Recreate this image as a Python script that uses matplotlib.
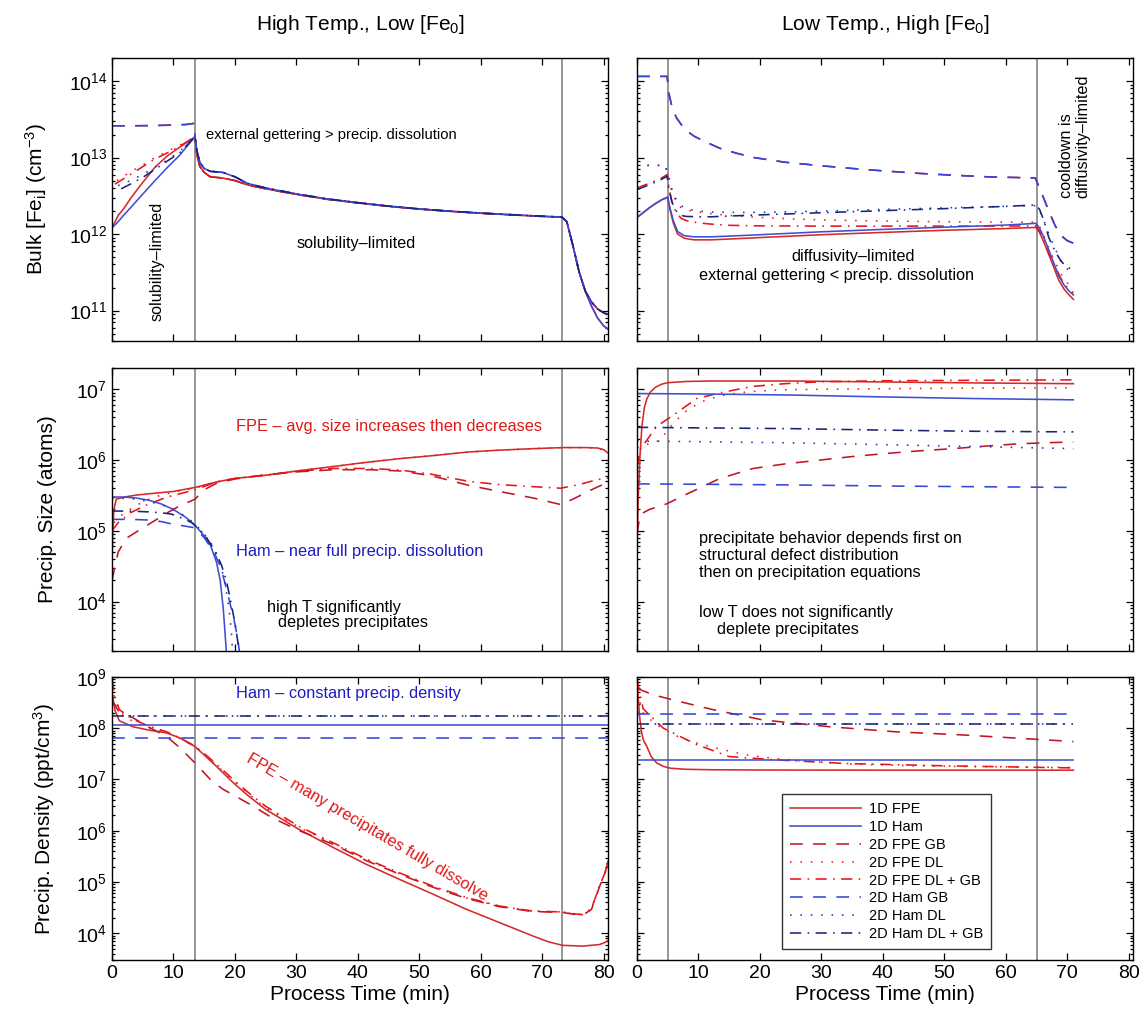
import matplotlib
matplotlib.use("Agg")
import matplotlib.pyplot as plt
from matplotlib.ticker import LogLocator, NullFormatter, MultipleLocator

plt.rcParams['font.family'] = ['Liberation Sans', 'DejaVu Sans']
plt.rcParams['mathtext.default'] = 'regular'

# ---------------------------------------------------------------------------
# Series names (legend order)
series_names = ['1D FPE', '1D Ham', '2D FPE GB', '2D FPE DL', '2D FPE DL + GB',
                '2D Ham GB', '2D Ham DL', '2D Ham DL + GB']

# ---------------------------------------------------------------------------
# High temperature, low [Fe0] : bulk interstitial iron (cm^-3)
hl_bulk_tail_t = [13.5, 13.8, 14.3, 15, 16, 18, 20, 22, 25, 30, 35, 40, 45, 50, 55, 60, 65, 70,
                  73.2, 74, 75, 76, 77]
hl_bulk_tail_fpe = [1.87e13, 1.1e13, 7.6e12, 6.4e12, 5.6e12, 5.4e12, 5.0e12, 4.4e12, 3.9e12, 3.3e12,
                    2.85e12, 2.55e12, 2.3e12, 2.12e12, 1.98e12, 1.87e12, 1.78e12, 1.70e12,
                    1.66e12, 1.45e12, 7.0e11, 3.2e11, 1.8e11]
hl_bulk_tail_ham = [1.87e13, 1.25e13, 8.6e12, 7.2e12, 6.6e12, 6.4e12, 5.6e12, 4.6e12, 4.0e12, 3.35e12,
                    2.88e12, 2.57e12, 2.32e12, 2.13e12, 1.99e12, 1.88e12, 1.79e12, 1.71e12,
                    1.67e12, 1.45e12, 7.0e11, 3.2e11, 1.8e11]
hl_bulk_cool_t = [78, 79, 80, 81]
hl_bulk_cool_1d = [1.15e11, 8.0e10, 6.3e10, 5.5e10]
hl_bulk_cool_2d = [1.3e11, 1.05e11, 9.3e10, 8.8e10]

hl_bulk_fpe1d_t = [0, 1, 2, 3, 4.5, 7, 9, 11]
hl_bulk_fpe1d = [1.2e12, 1.75e12, 2.2e12, 2.9e12, 4.2e12, 7.5e12, 1.05e13, 1.36e13]
hl_bulk_ham1d_t = [0, 1, 2, 3, 4.5, 7, 9, 11]
hl_bulk_ham1d = [1.2e12, 1.45e12, 1.8e12, 2.2e12, 3.0e12, 5.0e12, 7.4e12, 1.07e13]
hl_bulk_gb_t = [0, 3, 6, 9, 12, 13.4]
hl_bulk_fpegb = [2.6e13, 2.6e13, 2.62e13, 2.65e13, 2.7e13, 2.8e13]
hl_bulk_hamgb = [2.6e13, 2.6e13, 2.61e13, 2.64e13, 2.7e13, 2.8e13]
hl_bulk_fpedl_t = [0.8, 3, 5, 7, 9, 11]
hl_bulk_fpedl = [5.0e12, 6.5e12, 8.0e12, 1.0e13, 1.2e13, 1.45e13]
hl_bulk_fpedlgb_t = [0.5, 3, 5, 7, 9, 11]
hl_bulk_fpedlgb = [4.5e12, 6.0e12, 7.6e12, 9.6e12, 1.15e13, 1.4e13]
hl_bulk_hamdl_t = [1, 3, 5, 7, 9, 11]
hl_bulk_hamdl = [4.3e12, 5.0e12, 6.0e12, 7.5e12, 9.3e12, 1.2e13]
hl_bulk_hamdlgb_t = [1.5, 3, 5, 7, 9, 11]
hl_bulk_hamdlgb = [3.9e12, 4.5e12, 5.5e12, 7.0e12, 9.0e12, 1.15e13]

# ---------------------------------------------------------------------------
# Low temperature, high [Fe0] : bulk interstitial iron (cm^-3)
lh_bulk_1d_t = [0, 1, 2, 3, 4, 5, 5.3, 5.9, 6.6, 7.7, 9.3, 12, 15, 20, 30, 40, 50, 60, 64.9,
                65.5, 66.2, 67, 67.8, 68.6, 69.5, 70.3, 71]
lh_bulk_fpe1d = [1.65e12, 1.9e12, 2.2e12, 2.5e12, 2.8e12, 3.0e12, 2.2e12, 1.4e12, 1.0e12, 8.8e11,
                 8.4e11, 8.4e11, 8.6e11, 9.0e11, 9.8e11, 1.05e12, 1.12e12, 1.18e12, 1.22e12,
                 1.05e12, 7.8e11, 5.4e11, 3.7e11, 2.5e11, 1.9e11, 1.6e11, 1.4e11]
lh_bulk_ham1d = [1.65e12, 1.9e12, 2.2e12, 2.5e12, 2.8e12, 3.05e12, 2.3e12, 1.5e12, 1.08e12, 9.5e11,
                 9.2e11, 9.2e11, 9.4e11, 9.8e11, 1.07e12, 1.15e12, 1.23e12, 1.31e12, 1.38e12,
                 1.2e12, 9.0e11, 6.2e11, 4.2e11, 2.85e11, 2.15e11, 1.8e11, 1.6e11]
lh_bulk_gb_t = [0, 4.9, 5.2, 5.7, 6.4, 7.2, 8, 9.3, 10.8, 13.5, 16, 19, 24, 30, 35, 40, 46, 51,
                57, 61, 64.8, 65.4, 66.2, 67, 68, 69, 70, 71]
lh_bulk_fpegb = [1.15e14, 1.15e14, 6.8e13, 4.5e13, 3.3e13, 2.7e13, 2.25e13, 1.9e13, 1.65e13,
                 1.32e13, 1.15e13, 1.0e13, 8.7e12, 7.8e12, 7.2e12, 6.7e12, 6.2e12, 5.9e12,
                 5.6e12, 5.5e12, 5.4e12, 4.1e12, 2.9e12, 2.0e12, 1.3e12, 9.5e11, 8.2e11, 7.6e11]
lh_bulk_hamgb = [1.15e14, 1.15e14, 6.9e13, 4.6e13, 3.35e13, 2.7e13, 2.25e13, 1.9e13, 1.65e13,
                 1.32e13, 1.15e13, 1.0e13, 8.7e12, 7.8e12, 7.2e12, 6.7e12, 6.2e12, 5.9e12,
                 5.6e12, 5.5e12, 5.4e12, 4.2e12, 2.9e12, 2.0e12, 1.3e12, 9.6e11, 8.2e11, 7.6e11]
lh_bulk_dl_t = [0, 4.6, 5.2, 5.7, 6.4, 7.2, 8, 10, 12, 15, 20, 25, 30, 40, 50, 60, 64.9,
                65.5, 66.2, 67, 68, 69, 70, 71]
lh_bulk_fpedl = [7.9e12, 7.9e12, 5.0e12, 3.5e12, 2.6e12, 2.2e12, 2.05e12, 1.95e12, 1.85e12,
                 1.75e12, 1.65e12, 1.58e12, 1.53e12, 1.48e12, 1.45e12, 1.43e12, 1.43e12,
                 1.25e12, 9.5e11, 6.6e11, 4.3e11, 3.0e11, 2.3e11, 2.0e11]
lh_bulk_hamdl = [7.9e12, 7.9e12, 5.5e12, 3.8e12, 2.8e12, 2.35e12, 2.15e12, 2.0e12, 1.95e12,
                 1.92e12, 1.92e12, 1.95e12, 2.0e12, 2.1e12, 2.2e12, 2.3e12, 2.35e12,
                 2.0e12, 1.5e12, 1.0e12, 6.5e11, 4.5e11, 3.5e11, 3.1e11]
lh_bulk_dlgb_t = [0, 1, 2, 3, 4, 4.9, 5.2, 5.7, 6.4, 7.2, 8, 10, 12, 15, 20, 30, 40, 50, 60,
                  64.9, 65.5, 66.2, 67, 68, 69, 70, 71]
lh_bulk_fpedlgb = [4.0e12, 4.3e12, 4.6e12, 5.0e12, 5.4e12, 6.0e12, 4.0e12, 2.6e12, 1.9e12,
                   1.6e12, 1.5e12, 1.4e12, 1.35e12, 1.3e12, 1.28e12, 1.27e12, 1.27e12, 1.27e12,
                   1.27e12, 1.28e12, 1.1e12, 8.2e11, 5.6e11, 3.8e11, 2.6e11, 2.0e11, 1.7e11]
lh_bulk_hamdlgb = [3.8e12, 4.1e12, 4.4e12, 4.8e12, 5.2e12, 5.7e12, 3.8e12, 2.6e12, 2.0e12,
                   1.75e12, 1.7e12, 1.68e12, 1.68e12, 1.72e12, 1.78e12, 1.9e12, 2.02e12, 2.15e12,
                   2.3e12, 2.4e12, 2.1e12, 1.5e12, 9.0e11, 6.0e11, 4.4e11, 3.7e11, 3.4e11]

# ---------------------------------------------------------------------------
# High temperature, low [Fe0] : precipitate size (atoms)
hl_size_fpe1d_t = [0, 0.15, 0.3, 0.7, 2, 4, 7, 10, 13.5, 17, 20, 25, 30, 36, 41, 47, 52, 58, 63,
                   68.6, 73.4, 77, 79, 80, 81]
hl_size_fpe1d = [4e4, 1.0e5, 2.0e5, 2.8e5, 3.0e5, 3.2e5, 3.4e5, 3.6e5, 4.1e5, 4.9e5, 5.5e5, 6.1e5,
                 7.0e5, 8.1e5, 9.2e5, 1.05e6, 1.15e6, 1.3e6, 1.38e6, 1.45e6, 1.5e6, 1.5e6, 1.48e6,
                 1.4e6, 1.2e6]
hl_size_fpegb_t = [0, 1, 2.3, 5, 7, 9, 10.8, 13.5, 15, 17, 20, 25, 30, 36, 42, 47, 52, 58, 63,
                   68.6, 73, 75, 78, 81]
hl_size_fpegb = [2.0e4, 5.0e4, 7.8e4, 1.1e5, 1.4e5, 1.8e5, 2.2e5, 2.8e5, 3.8e5, 4.7e5, 5.4e5,
                 6.2e5, 6.8e5, 7.3e5, 7.3e5, 7.0e5, 6.0e5, 4.4e5, 3.6e5, 2.9e5, 2.35e5, 2.8e5,
                 3.8e5, 5.0e5]
hl_size_fpedl_t = [0.3, 2, 4, 6, 8, 10, 13.5, 17, 20, 25, 30, 36, 41, 47, 52, 58, 63, 68.6, 73.4,
                   77, 79, 81]
hl_size_fpedl = [1.3e5, 1.8e5, 2.3e5, 2.8e5, 3.2e5, 3.5e5, 4.0e5, 4.9e5, 5.5e5, 6.1e5, 7.0e5,
                 8.1e5, 9.2e5, 1.05e6, 1.15e6, 1.3e6, 1.38e6, 1.45e6, 1.5e6, 1.5e6, 1.47e6, 1.3e6]
hl_size_fpedlgb_t = [0, 1, 3, 6, 9, 13.5, 17, 20, 25, 30, 36, 42, 47, 52, 58, 63, 68.6, 73, 76,
                     79, 81]
hl_size_fpedlgb = [1.0e5, 1.3e5, 1.8e5, 2.4e5, 3.0e5, 3.8e5, 4.9e5, 5.5e5, 6.1e5, 6.9e5, 7.6e5,
                   7.6e5, 7.2e5, 6.3e5, 5.0e5, 4.5e5, 4.2e5, 4.0e5, 4.5e5, 5.3e5, 5.6e5]
hl_size_ham1d_t = [0, 2, 4, 6, 8, 10, 12, 13.5, 15, 16, 17, 17.6, 18.1, 18.4, 18.7]
hl_size_ham1d = [3.0e5, 3.0e5, 2.9e5, 2.7e5, 2.4e5, 2.0e5, 1.55e5, 1.2e5, 8.5e4, 6.3e4, 3.6e4,
                 2.0e4, 8e3, 3.5e3, 1.5e3]
hl_size_hamdl_t = [0, 3, 6, 9, 12, 13.5, 15, 16.5, 17.5, 18.3, 19, 19.4, 19.7]
hl_size_hamdl = [2.9e5, 2.85e5, 2.6e5, 2.2e5, 1.6e5, 1.25e5, 9.0e4, 6.0e4, 3.8e4, 2.0e4, 8.5e3,
                 4e3, 1.5e3]
hl_size_hamgb_t = [0, 3, 6, 8, 9.7, 11.5, 13.5, 15, 16.7, 17.7, 18.4, 19.2, 20, 20.5, 20.9]
hl_size_hamgb = [1.45e5, 1.45e5, 1.42e5, 1.35e5, 1.25e5, 1.18e5, 1.1e5, 8.0e4, 4.8e4, 3.0e4,
                 1.8e4, 9.5e3, 4.8e3, 2.8e3, 1.5e3]
hl_size_hamdlgb_t = [0, 3, 6, 8, 9.7, 11.5, 13, 15, 16.7, 17.8, 18.6, 19.4, 20, 20.5, 20.8]
hl_size_hamdlgb = [1.9e5, 1.9e5, 1.85e5, 1.8e5, 1.72e5, 1.5e5, 1.3e5, 9e4, 5.3e4, 3.3e4, 2.0e4,
                   9.3e3, 5e3, 2.6e3, 1.5e3]

# ---------------------------------------------------------------------------
# Low temperature, high [Fe0] : precipitate size (atoms)
lh_size_fpe1d_t = [0, 0.2, 0.5, 0.8, 1.2, 1.6, 2.2, 3, 4, 5, 8, 12, 25, 40, 55, 71]
lh_size_fpe1d = [6e4, 3e5, 1.2e6, 3e6, 5.5e6, 7.3e6, 9.2e6, 1.07e7, 1.18e7, 1.24e7, 1.29e7,
                 1.31e7, 1.31e7, 1.27e7, 1.23e7, 1.2e7]
lh_size_flat_t = [0, 10, 25, 40, 55, 71]
lh_size_ham1d = [8.7e6, 8.6e6, 8.3e6, 7.8e6, 7.4e6, 7.1e6]
lh_size_hamgb = [4.6e5, 4.55e5, 4.45e5, 4.3e5, 4.2e5, 4.1e5]
lh_size_hamdl = [1.85e6, 1.82e6, 1.75e6, 1.65e6, 1.55e6, 1.45e6]
lh_size_hamdlgb = [2.9e6, 2.85e6, 2.78e6, 2.65e6, 2.55e6, 2.5e6]
lh_size_fpegb_t = [0, 0.5, 2, 4.8, 8.1, 13.5, 18.9, 24, 29.8, 35, 40.6, 46, 51.4, 57, 62.2, 67, 71]
lh_size_fpegb = [9e4, 1.7e5, 2.0e5, 2.4e5, 3.3e5, 5.5e5, 7.6e5, 8.8e5, 1.0e6, 1.12e6, 1.24e6,
                 1.35e6, 1.45e6, 1.58e6, 1.7e6, 1.76e6, 1.8e6]
lh_size_fpedl_t = [0, 2, 3.7, 6, 8.1, 10.5, 13.5, 17, 20, 25, 30, 40, 55, 71]
lh_size_fpedl = [1.5e6, 1.7e6, 1.9e6, 3.4e6, 5.0e6, 6.7e6, 8.1e6, 9.0e6, 9.5e6, 9.9e6, 1.0e7,
                 1.02e7, 1.04e7, 1.05e7]
lh_size_fpedlgb_t = [0, 0.5, 3.2, 5.9, 9.7, 14, 18.9, 24, 30, 40, 55, 71]
lh_size_fpedlgb = [8e5, 1.4e6, 3.0e6, 4.3e6, 7.4e6, 9.1e6, 1.1e7, 1.2e7, 1.28e7, 1.32e7, 1.34e7,
                   1.36e7]

# ---------------------------------------------------------------------------
# High temperature, low [Fe0] : precipitate density (ppt/cm^3)
hl_dens_flat_t = [0, 40, 81]
hl_dens_ham1d = [1.15e8, 1.15e8, 1.15e8]
hl_dens_hamgb = [6.5e7, 6.5e7, 6.5e7]
hl_dens_hamdl = [1.75e8, 1.75e8, 1.75e8]
hl_dens_hamdlgb = [1.72e8, 1.72e8, 1.72e8]
hl_dens_fpe1d_t = [0, 0.5, 1.2, 3.4, 6, 8.9, 11, 13.5, 15, 17, 19.7, 22, 25, 30.5, 36, 41.4, 46.8,
                   52.2, 57.6, 63, 68.4, 71, 73.3, 76.6, 79.3, 80.2, 81]
hl_dens_fpe1d = [5e8, 2.2e8, 1.4e8, 1.07e8, 9.2e7, 8.1e7, 6.5e7, 4.4e7, 3.0e7, 1.8e7, 8.7e6, 5.0e6,
                 2.6e6, 1.05e6, 4.7e5, 2.2e5, 1.12e5, 5.8e4, 2.95e4, 1.62e4, 8.9e3, 6.8e3, 5.8e3,
                 5.6e3, 6.0e3, 6.6e3, 7.5e3]
hl_dens_dl_t = [0, 0.5, 1.2, 3.4, 6, 8.9, 11, 13.5, 15, 17, 19.7, 22, 25, 30.5, 36, 41.4, 46.8,
                52.2, 57.6, 63, 68.4, 73.3, 75, 76.6, 78, 79.3, 80.2, 81]
hl_dens_fpedl = [7e8, 3.5e8, 2.1e8, 1.35e8, 1.0e8, 8.2e7, 6.3e7, 4.3e7, 3.1e7, 1.9e7, 9.5e6, 5.5e6,
                 2.8e6, 1.15e6, 5.6e5, 2.7e5, 1.45e5, 8e4, 4.9e4, 3.35e4, 2.7e4, 2.6e4, 2.4e4,
                 2.3e4, 3.0e4, 8e4, 1.45e5, 3.5e5]
hl_dens_fpedlgb = [9e8, 4e8, 2.3e8, 1.5e8, 1.1e8, 8.5e7, 6.5e7, 4.5e7, 3.2e7, 2.0e7, 1.0e7, 5.8e6,
                   3.0e6, 1.2e6, 5.8e5, 2.8e5, 1.5e5, 8.3e4, 5.0e4, 3.4e4, 2.7e4, 2.6e4, 2.4e4,
                   2.3e4, 3.0e4, 8.3e4, 1.5e5, 3.7e5]
hl_dens_fpegb_t = [0, 1, 3.4, 6, 8.9, 11, 13.5, 16, 18, 20, 23, 26, 30.5, 36, 41.4, 46.8, 52.2,
                   57.6, 63, 68.4, 73.3, 75, 76.6, 78, 79.3, 80.2, 81]
hl_dens_fpegb = [3.5e8, 2.2e8, 1.6e8, 1.05e8, 6.9e7, 4.2e7, 2.1e7, 1.0e7, 6.5e6, 4.8e6, 3.0e6,
                 1.8e6, 1.0e6, 5.4e5, 2.6e5, 1.42e5, 7.9e4, 4.8e4, 3.3e4, 2.65e4, 2.55e4, 2.35e4,
                 2.25e4, 2.9e4, 8.0e4, 1.45e5, 3.5e5]

# ---------------------------------------------------------------------------
# Low temperature, high [Fe0] : precipitate density (ppt/cm^3)
lh_dens_flat_t = [0, 35, 71]
lh_dens_ham1d = [2.4e7, 2.4e7, 2.4e7]
lh_dens_hamgb = [1.87e8, 1.87e8, 1.87e8]
lh_dens_hamdl = [1.2e8, 1.2e8, 1.2e8]
lh_dens_hamdlgb = [1.19e8, 1.19e8, 1.19e8]
lh_dens_fpe1d_t = [0, 0.2, 0.4, 0.7, 1.0, 1.6, 2.3, 3.2, 4.3, 5.4, 8, 12, 20, 40, 71]
lh_dens_fpe1d = [8e8, 4e8, 1.8e8, 9e7, 6e7, 4.4e7, 2.8e7, 2.1e7, 1.8e7, 1.66e7, 1.58e7, 1.55e7,
                 1.53e7, 1.52e7, 1.52e7]
lh_dens_fpegb_t = [0, 2.6, 7, 12.4, 20.5, 31.3, 42.2, 53, 63.8, 71]
lh_dens_fpegb = [6e8, 4.5e8, 3.3e8, 2.3e8, 1.45e8, 1.07e8, 8.5e7, 7.4e7, 6.2e7, 5.5e7]
lh_dens_fpedl_t = [0, 1, 3, 6.5, 10, 14, 18, 22, 27, 35, 45, 55, 71]
lh_dens_fpedl = [5e8, 2.0e8, 1.2e8, 7.0e7, 5.0e7, 3.8e7, 3.0e7, 2.6e7, 2.3e7, 2.0e7, 1.85e7,
                 1.78e7, 1.72e7]
lh_dens_fpedlgb_t = [0, 1, 4.3, 9.7, 15, 23, 34, 50, 71]
lh_dens_fpedlgb = [9e8, 2.4e8, 1.0e8, 4.8e7, 2.8e7, 2.4e7, 2.05e7, 1.85e7, 1.68e7]

# Process-step boundaries (min)
hl_steps = [13.5, 73.2]
lh_steps = [5, 65]

# ---------------------------------------------------------------------------
styles = {
    '1D FPE':         dict(color='#d42a2a', ls='-'),
    '1D Ham':         dict(color='#3f4fcf', ls='-'),
    '2D FPE GB':      dict(color='#c01624', ls=(0, (8, 6.5))),
    '2D FPE DL':      dict(color='#f01c1c', ls=(0, (1, 5.5))),
    '2D FPE DL + GB': dict(color='#e8141a', ls=(0, (7, 4, 1, 4))),
    '2D Ham GB':      dict(color='#3246dc', ls=(0, (8, 6.5))),
    '2D Ham DL':      dict(color='#2434c4', ls=(0, (1, 5.5))),
    '2D Ham DL + GB': dict(color='#182478', ls=(0, (7, 4, 1, 4))),
}

hl_bulk = {
    '1D FPE': (hl_bulk_fpe1d_t + hl_bulk_tail_t + hl_bulk_cool_t,
               hl_bulk_fpe1d + hl_bulk_tail_fpe + hl_bulk_cool_1d),
    '2D FPE GB': (hl_bulk_gb_t + hl_bulk_tail_t + hl_bulk_cool_t,
                  hl_bulk_fpegb + hl_bulk_tail_fpe + hl_bulk_cool_2d),
    '2D FPE DL': (hl_bulk_fpedl_t + hl_bulk_tail_t + hl_bulk_cool_t,
                  hl_bulk_fpedl + hl_bulk_tail_fpe + hl_bulk_cool_2d),
    '2D FPE DL + GB': (hl_bulk_fpedlgb_t + hl_bulk_tail_t + hl_bulk_cool_t,
                       hl_bulk_fpedlgb + hl_bulk_tail_fpe + hl_bulk_cool_2d),
    '1D Ham': (hl_bulk_ham1d_t + hl_bulk_tail_t + hl_bulk_cool_t,
               hl_bulk_ham1d + hl_bulk_tail_ham + hl_bulk_cool_1d),
    '2D Ham GB': (hl_bulk_gb_t + hl_bulk_tail_t + hl_bulk_cool_t,
                  hl_bulk_hamgb + hl_bulk_tail_ham + hl_bulk_cool_2d),
    '2D Ham DL': (hl_bulk_hamdl_t + hl_bulk_tail_t + hl_bulk_cool_t,
                  hl_bulk_hamdl + hl_bulk_tail_ham + hl_bulk_cool_2d),
    '2D Ham DL + GB': (hl_bulk_hamdlgb_t + hl_bulk_tail_t + hl_bulk_cool_t,
                       hl_bulk_hamdlgb + hl_bulk_tail_ham + hl_bulk_cool_2d),
}
lh_bulk = {
    '1D FPE': (lh_bulk_1d_t, lh_bulk_fpe1d),
    '2D FPE GB': (lh_bulk_gb_t, lh_bulk_fpegb),
    '2D FPE DL': (lh_bulk_dl_t, lh_bulk_fpedl),
    '2D FPE DL + GB': (lh_bulk_dlgb_t, lh_bulk_fpedlgb),
    '1D Ham': (lh_bulk_1d_t, lh_bulk_ham1d),
    '2D Ham GB': (lh_bulk_gb_t, lh_bulk_hamgb),
    '2D Ham DL': (lh_bulk_dl_t, lh_bulk_hamdl),
    '2D Ham DL + GB': (lh_bulk_dlgb_t, lh_bulk_hamdlgb),
}
hl_size = {
    '1D FPE': (hl_size_fpe1d_t, hl_size_fpe1d),
    '2D FPE GB': (hl_size_fpegb_t, hl_size_fpegb),
    '2D FPE DL': (hl_size_fpedl_t, hl_size_fpedl),
    '2D FPE DL + GB': (hl_size_fpedlgb_t, hl_size_fpedlgb),
    '1D Ham': (hl_size_ham1d_t, hl_size_ham1d),
    '2D Ham GB': (hl_size_hamgb_t, hl_size_hamgb),
    '2D Ham DL': (hl_size_hamdl_t, hl_size_hamdl),
    '2D Ham DL + GB': (hl_size_hamdlgb_t, hl_size_hamdlgb),
}
lh_size = {
    '1D FPE': (lh_size_fpe1d_t, lh_size_fpe1d),
    '2D FPE GB': (lh_size_fpegb_t, lh_size_fpegb),
    '2D FPE DL': (lh_size_fpedl_t, lh_size_fpedl),
    '2D FPE DL + GB': (lh_size_fpedlgb_t, lh_size_fpedlgb),
    '1D Ham': (lh_size_flat_t, lh_size_ham1d),
    '2D Ham GB': (lh_size_flat_t, lh_size_hamgb),
    '2D Ham DL': (lh_size_flat_t, lh_size_hamdl),
    '2D Ham DL + GB': (lh_size_flat_t, lh_size_hamdlgb),
}
hl_dens = {
    '1D FPE': (hl_dens_fpe1d_t, hl_dens_fpe1d),
    '2D FPE GB': (hl_dens_fpegb_t, hl_dens_fpegb),
    '2D FPE DL': (hl_dens_dl_t, hl_dens_fpedl),
    '2D FPE DL + GB': (hl_dens_dl_t, hl_dens_fpedlgb),
    '1D Ham': (hl_dens_flat_t, hl_dens_ham1d),
    '2D Ham GB': (hl_dens_flat_t, hl_dens_hamgb),
    '2D Ham DL': (hl_dens_flat_t, hl_dens_hamdl),
    '2D Ham DL + GB': (hl_dens_flat_t, hl_dens_hamdlgb),
}
lh_dens = {
    '1D FPE': (lh_dens_fpe1d_t, lh_dens_fpe1d),
    '2D FPE GB': (lh_dens_fpegb_t, lh_dens_fpegb),
    '2D FPE DL': (lh_dens_fpedl_t, lh_dens_fpedl),
    '2D FPE DL + GB': (lh_dens_fpedlgb_t, lh_dens_fpedlgb),
    '1D Ham': (lh_dens_flat_t, lh_dens_ham1d),
    '2D Ham GB': (lh_dens_flat_t, lh_dens_hamgb),
    '2D Ham DL': (lh_dens_flat_t, lh_dens_hamdl),
    '2D Ham DL + GB': (lh_dens_flat_t, lh_dens_hamdlgb),
}

draw_order = ['1D FPE', '2D FPE GB', '2D FPE DL', '2D FPE DL + GB',
              '1D Ham', '2D Ham GB', '2D Ham DL', '2D Ham DL + GB']

# ---------------------------------------------------------------------------
W, H = 1147, 1021
fig = plt.figure(figsize=(W / 100, H / 100), dpi=100)

col_left = [112 / W, 637 / W]
ax_w = 496 / W
row_bottom = [(H - 341) / H, (H - 651) / H, (H - 960) / H]
ax_h = 283 / H

ylims = [(4e10, 2e14), (2e3, 2e7), (3e3, 1e9)]
ylabels = ['Bulk [Fe$_i$] (cm$^{-3}$)', 'Precip. Size (atoms)', 'Precip. Density (ppt/cm$^3$)']
panel_data = [[hl_bulk, lh_bulk], [hl_size, lh_size], [hl_dens, lh_dens]]
steps = [hl_steps, lh_steps]
titles = ['High Temp., Low [Fe$_0$]', 'Low Temp., High [Fe$_0$]']

axes = [[None, None] for _ in range(3)]
handles = {}
for r in range(3):
    for c in range(2):
        ax = fig.add_axes([col_left[c], row_bottom[r], ax_w, ax_h])
        axes[r][c] = ax
        ax.set_yscale('log')
        ax.set_xlim(0, 80.7)
        ax.set_ylim(*ylims[r])
        for s in steps[c]:
            ax.axvline(s, color='#8e8e8e', lw=1.3, zorder=1)
        data = panel_data[r][c]
        for name in draw_order:
            t, v = data[name]
            st = styles[name]
            ln, = ax.plot(t, v, color=st['color'], linestyle=st['ls'], lw=1.15,
                          label=name, zorder=2)
            handles[name] = ln
        ax.xaxis.set_major_locator(MultipleLocator(10))
        ax.yaxis.set_major_locator(LogLocator(base=10, numticks=30))
        ax.yaxis.set_minor_locator(LogLocator(base=10, subs=range(2, 10), numticks=30))
        ax.yaxis.set_minor_formatter(NullFormatter())
        ax.tick_params(which='both', direction='in', top=True, right=True, labelsize=14,
                       width=0.9)
        ax.tick_params(which='major', length=5)
        ax.tick_params(which='minor', length=2.5)
        for sp in ax.spines.values():
            sp.set_linewidth(1.0)
        if r < 2:
            ax.tick_params(labelbottom=False)
        else:
            ax.set_xlabel('Process Time (min)', fontsize=15, labelpad=2)
        if c == 1:
            ax.tick_params(labelleft=False)
        else:
            ax.set_ylabel(ylabels[r], fontsize=15, labelpad=14)
        if r == 0:
            ax.set_title(titles[c], fontsize=15, pad=20)

# ---------------------------------------------------------------------------
# Annotations
fs = 11.7
red_txt = '#e01818'
blue_txt = '#1c1cc0'
a = axes[0][0]
a.text(0.091, 0.28, 'solubility\u2013limited', rotation=90, ha='center', va='center',
       fontsize=fs, transform=a.transAxes)
a.text(0.19, 0.728, 'external gettering > precip. dissolution', ha='left', va='center',
       fontsize=10.6, transform=a.transAxes)
a.text(0.372, 0.346, 'solubility\u2013limited', ha='left', va='center',
       fontsize=fs, transform=a.transAxes)

a = axes[0][1]
a.text(0.882, 0.505, 'cooldown is\ndiffusivity\u2013limited', rotation=90, ha='center',
       va='bottom', multialignment='left', fontsize=fs, linespacing=1.1,
       transform=a.transAxes)
a.text(0.435, 0.297, 'diffusivity\u2013limited', ha='center', va='center', fontsize=fs,
       transform=a.transAxes)
a.text(0.403, 0.233, 'external gettering < precip. dissolution', ha='center', va='center',
       fontsize=fs, transform=a.transAxes)

a = axes[1][0]
a.text(0.25, 0.793, 'FPE \u2013 avg. size increases then decreases', ha='left', va='center',
       fontsize=11.8, color=red_txt, transform=a.transAxes)
a.text(0.25, 0.35, 'Ham \u2013 near full precip. dissolution', ha='left', va='center',
       fontsize=11.8, color=blue_txt, transform=a.transAxes)
a.text(0.312, 0.152, 'high T significantly', ha='left', va='center', fontsize=fs,
       transform=a.transAxes)
a.text(0.335, 0.099, 'depletes precipitates', ha='left', va='center', fontsize=fs,
       transform=a.transAxes)

a = axes[1][1]
for txt, y in [('precipitate behavior depends first on', 0.398),
               ('structural defect distribution', 0.339),
               ('then on precipitation equations', 0.277),
               ('low T does not significantly', 0.137)]:
    a.text(0.125, y, txt, ha='left', va='center', fontsize=fs, transform=a.transAxes)
a.text(0.162, 0.077, 'deplete precipitates', ha='left', va='center', fontsize=fs,
       transform=a.transAxes)

a = axes[2][0]
a.text(0.25, 0.942, 'Ham \u2013 constant precip. density', ha='left', va='center',
       fontsize=11.8, color=blue_txt, transform=a.transAxes)
a.text(0.514, 0.47, 'FPE \u2013 many precipitates fully dissolve', ha='center', va='center',
       rotation=-30.3, rotation_mode='anchor', fontsize=11.8, color=red_txt,
       transform=a.transAxes)

# Legend
a = axes[2][1]
leg = a.legend([handles[n] for n in series_names], series_names, loc='lower left',
               bbox_to_anchor=(0.292, 0.039), borderaxespad=0, frameon=True,
               fancybox=False, edgecolor='black', fontsize=10.5, handlelength=4.9,
               labelspacing=0.26, borderpad=0.55, handletextpad=0.5)
leg.get_frame().set_linewidth(1.0)

fig.savefig('out.png', dpi=100)
